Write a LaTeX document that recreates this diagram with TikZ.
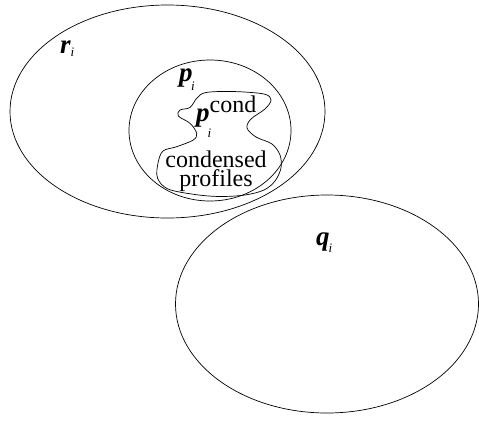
\documentclass[tikz,border=0pt]{standalone}
\usepackage{fontspec}
\setmainfont{Liberation Serif}
\newcommand\bv[1]{{\fontsize{27}{27}\selectfont\bfseries\itshape #1}}
\newcommand\si[1]{{\fontsize{13}{13}\selectfont\itshape #1}}
\newcommand\tx[1]{{\fontsize{24}{24}\selectfont #1}}
\tikzset{lbl/.style={inner sep=0pt, anchor=base west}, shapeline/.style={draw=black, line width=0.7pt}}
\begin{document}
\begin{tikzpicture}[x=1pt,y=-1pt]
\useasboundingbox (0,0) rectangle (479,421);
% outer ellipse r_i
\draw[shapeline] (167.5,111.5) ellipse [x radius=157.5pt, y radius=106.5pt];
% circle p_i
\draw[shapeline] (210,130.5) ellipse [x radius=81pt, y radius=70.5pt];
% ellipse q_i
\draw[shapeline] (327,304) ellipse [x radius=151.5pt, y radius=109pt];
% blob
\draw[shapeline] plot[smooth cycle, tension=0.55] coordinates {
(197,98) (206,92.5) (233,91.5) (264,94) (271,100) (265,109)
(251,119) (247,128) (256,137) (272,144) (280,155) (281,168)
(275,181) (264,190) (245,195) (220,196.5) (195,194.5) (168,189) (157.5,178) (158,163)
(163,151) (176.7,146.7) (193.3,140) (196.7,133.3) (190,123.3) (178.3,116)
(180,110) (190,107.5)};
% labels
\node[lbl] (ri) at (60,53) {\bv{r}\kern0pt\raisebox{-3pt}{\si{i}}};
\node[lbl] (pi) at (179,81) {\bv{p}\kern-1.5pt\raisebox{-9pt}{\si{i}}};
\node[lbl] (pc) at (196,121) {\bv{p}\kern-2pt\rlap{\raisebox{-16pt}{\si{i}}}\kern2pt\raisebox{9pt}{\tx{cond}}};
\node[lbl] (qi) at (316,245) {\bv{q}\kern-1pt\raisebox{-7pt}{\si{i}}};
\node[inner sep=0pt, anchor=base] (cd) at (216,167) {\tx{\begin{tabular}[t]{@{}c@{}}condensed\\[-5pt]profiles\end{tabular}}};
\end{tikzpicture}
\end{document}
